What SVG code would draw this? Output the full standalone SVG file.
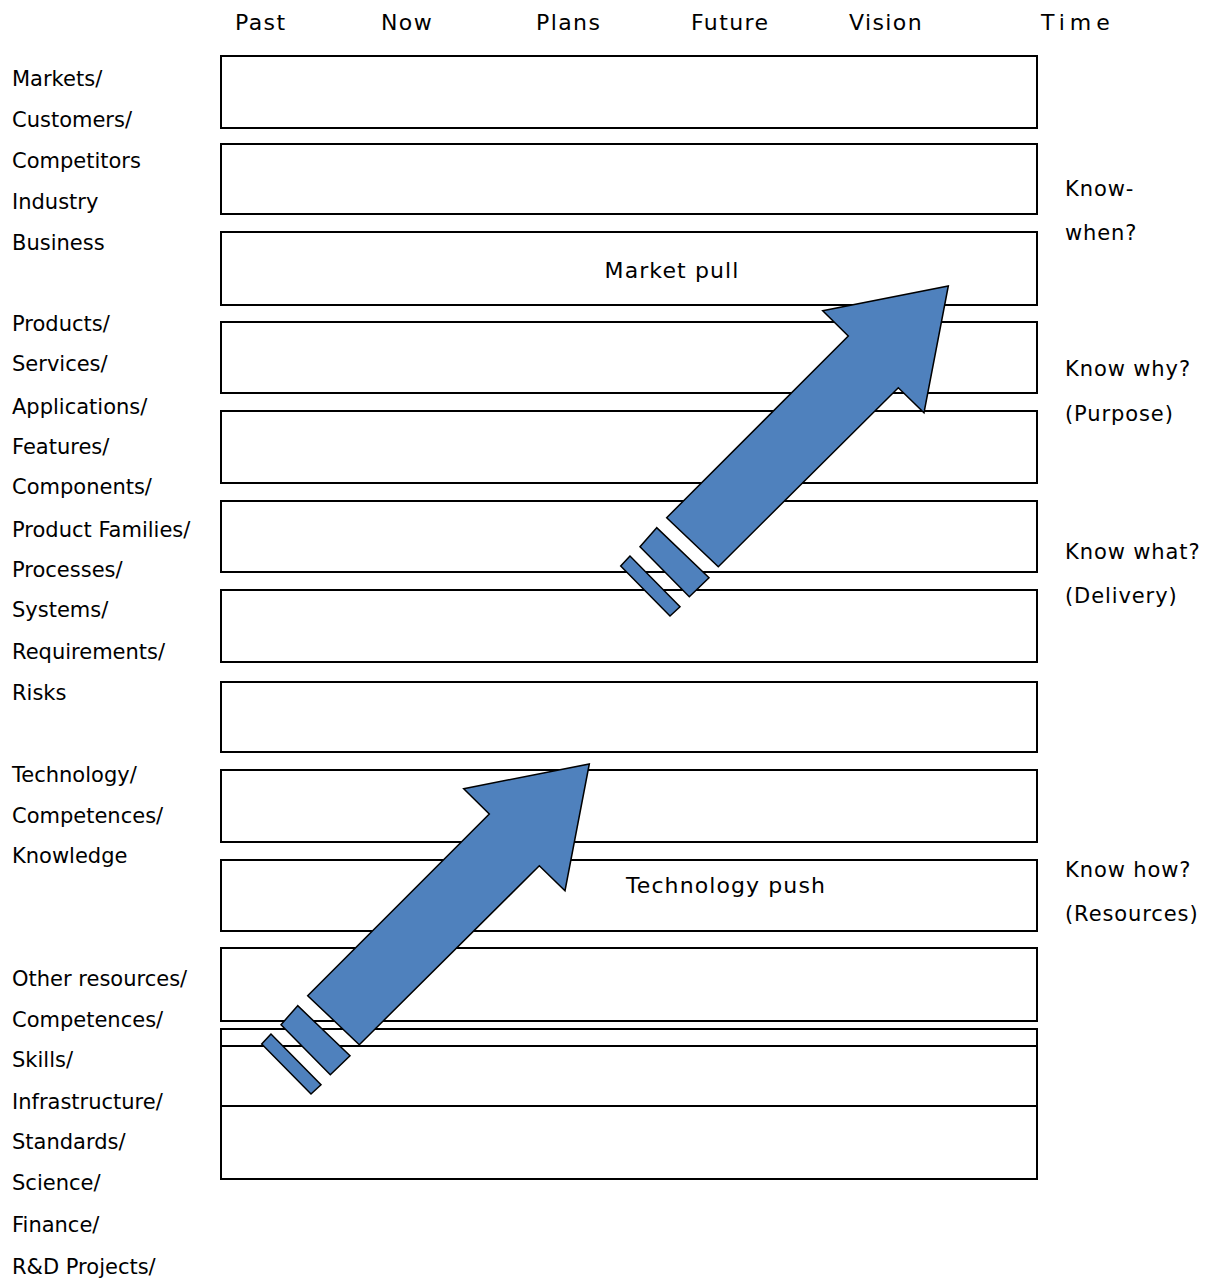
<svg xmlns="http://www.w3.org/2000/svg" width="1221" height="1283" viewBox="0 0 1221 1283">
  <style>
    text { font-family: "DejaVu Sans", "Liberation Sans", sans-serif; font-size: 21px; fill: #000; }
    .hdr { font-size: 22px; letter-spacing: 1.4px; }
    .q { font-size: 22px; letter-spacing: 0.9px; }
    .inlane { font-size: 22px; letter-spacing: 1.1px; }
    .lane { fill: #fff; stroke: #000; stroke-width: 2; }
    .arrow { fill: #4F81BD; stroke: #000; stroke-width: 1.5; stroke-linejoin: miter; }
  </style>
  <defs>
    <!-- block arrow with two trailing stripes, drawn at its upper (market pull) position -->
    <g id="blockArrow">
      <polygon class="arrow" points="948.3,286 924,412.7 898.3,387.7 718.3,566.7 666.7,517.7 848.3,336 822.7,310.7"/>
      <polygon class="arrow" points="656.7,527.7 640,546.7 689.3,596.7 709,577.7"/>
      <polygon class="arrow" points="630,556 620.7,566 670,616 680,606.7"/>
    </g>
  </defs>
  <rect width="1221" height="1283" fill="#fff"/>

  <!-- time axis -->
  <g id="axis">
    <text x="235" y="30" class="hdr">Past</text>
    <text x="381" y="30" class="hdr">Now</text>
    <text x="536" y="30" class="hdr">Plans</text>
    <text x="691" y="30" class="hdr">Future</text>
    <text x="849" y="30" class="hdr">Vision</text>
    <text x="1041" y="30" class="hdr" style="letter-spacing:5px">Time</text>
  </g>

  <!-- swim lanes -->
  <g id="lanes">
    <rect id="lane1" class="lane" x="221" y="56" width="816" height="72"/>
    <rect id="lane2" class="lane" x="221" y="144" width="816" height="70"/>
    <g id="lane3">
      <rect class="lane" x="221" y="232" width="816" height="73"/>
      <text x="672" y="278" text-anchor="middle" class="inlane">Market pull</text>
    </g>
    <rect id="lane4" class="lane" x="221" y="322" width="816" height="71"/>
    <rect id="lane5" class="lane" x="221" y="411" width="816" height="72"/>
    <rect id="lane6" class="lane" x="221" y="501" width="816" height="71"/>
    <rect id="lane7" class="lane" x="221" y="590" width="816" height="72"/>
    <rect id="lane8" class="lane" x="221" y="682" width="816" height="70"/>
    <rect id="lane9" class="lane" x="221" y="770" width="816" height="72"/>
    <g id="lane10">
      <rect class="lane" x="221" y="860" width="816" height="71"/>
      <text x="726" y="893" text-anchor="middle" class="inlane">Technology push</text>
    </g>
    <rect id="lane11" class="lane" x="221" y="948" width="816" height="73"/>
    <rect id="lane12" class="lane" x="221" y="1029" width="816" height="77"/>
    <rect id="lane13" class="lane" x="221" y="1046" width="816" height="60"/>
    <rect id="lane14" class="lane" x="221" y="1106" width="816" height="73"/>
  </g>

  <!-- arrows -->
  <g id="arrows">
    <use href="#blockArrow"/>
    <use href="#blockArrow" transform="translate(-359 478)"/>
  </g>

  <!-- layer labels -->
  <g id="layer-labels">
    <text x="12" y="86">Markets/</text>
    <text x="12" y="127">Customers/</text>
    <text x="12" y="168">Competitors</text>
    <text x="12" y="209">Industry</text>
    <text x="12" y="250">Business</text>
    <text x="12" y="331">Products/</text>
    <text x="12" y="371">Services/</text>
    <text x="12" y="414">Applications/</text>
    <text x="12" y="454">Features/</text>
    <text x="12" y="494">Components/</text>
    <text x="12" y="537">Product Families/</text>
    <text x="12" y="577">Processes/</text>
    <text x="12" y="617">Systems/</text>
    <text x="12" y="659">Requirements/</text>
    <text x="12" y="700">Risks</text>
    <text x="12" y="782">Technology/</text>
    <text x="12" y="823">Competences/</text>
    <text x="12" y="863">Knowledge</text>
    <text x="12" y="986">Other resources/</text>
    <text x="12" y="1027">Competences/</text>
    <text x="12" y="1067">Skills/</text>
    <text x="12" y="1109">Infrastructure/</text>
    <text x="12" y="1149">Standards/</text>
    <text x="12" y="1190">Science/</text>
    <text x="12" y="1232">Finance/</text>
    <text x="12" y="1274">R&amp;D Projects/</text>
  </g>

  <!-- knowledge questions -->
  <g id="questions" class="q">
    <text x="1065" y="196">Know-</text>
    <text x="1065" y="240">when?</text>
    <text x="1065" y="376">Know why?</text>
    <text x="1065" y="421">(Purpose)</text>
    <text x="1065" y="559">Know what?</text>
    <text x="1065" y="603">(Delivery)</text>
    <text x="1065" y="877">Know how?</text>
    <text x="1065" y="921">(Resources)</text>
  </g>
</svg>
